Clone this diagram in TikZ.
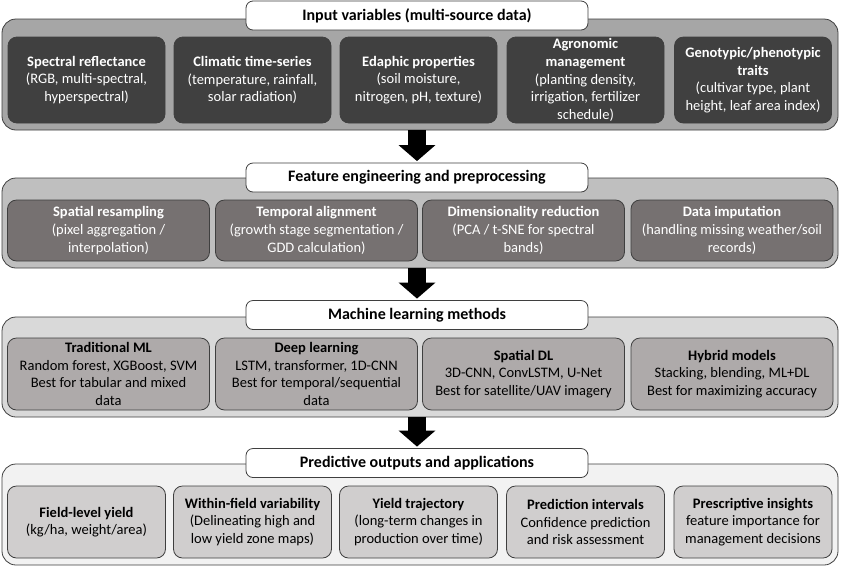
\documentclass[tikz,border=0pt]{standalone}
\usepackage{fontspec}
\setmainfont{Carlito}
\usetikzlibrary{arrows.meta}
\definecolor{bordc}{HTML}{3F3F3F}
\definecolor{outA}{HTML}{A6A6A6}
\definecolor{inA}{HTML}{404040}
\definecolor{outB}{HTML}{BFBFBF}
\definecolor{inB}{HTML}{767171}
\definecolor{outC}{HTML}{D9D9D9}
\definecolor{inC}{HTML}{AEAAAA}
\definecolor{outD}{HTML}{F2F2F2}
\definecolor{inD}{HTML}{D0CECE}
\begin{document}
\begin{tikzpicture}[x=1pt,y=-1pt,
  panel/.style={draw=bordc, line width=0.8pt, rounded corners=14pt, inner sep=0pt, minimum width=836pt},
  titlebox/.style={draw=bordc, line width=0.8pt, fill=white, rounded corners=7pt, minimum width=342pt, minimum height=29pt, inner sep=0pt, font=\fontsize{16}{18}\selectfont\bfseries},
  cell/.style={draw=bordc, line width=0.8pt, rounded corners=9pt, align=center, inner sep=1pt, font=\fontsize{14.5}{17.6}\selectfont},
  cellA/.style={cell, fill=inA, text=white, minimum width=157pt, minimum height=86pt},
  cellB/.style={cell, fill=inB, text=white, minimum width=202pt, minimum height=61pt},
  cellC/.style={cell, fill=inC, text=black, minimum width=202pt, minimum height=72pt},
  cellD/.style={cell, fill=inD, text=black, minimum width=158pt, minimum height=72pt},
  blockarrow/.style={line width=18pt, black, -{Triangle[width=36pt,length=16pt]}, shorten >=1.5pt}
]
\useasboundingbox (0,0) rectangle (841,566);

% Panel 1
\node[panel, fill=outA, minimum height=111pt] (p1) at (420,74.5) {};
\node[titlebox] (t1) at (417,15.5) {Input variables (multi-source data)};
\node[cellA] (a1) at (86.5,80) {\textbf{Spectral reflectance}\\(RGB, multi-spectral,\\hyperspectral)};
\node[cellA] (a2) at (252.5,80) {\textbf{Climatic time-series}\\(temperature, rainfall,\\solar radiation)};
\node[cellA] (a3) at (418.5,80) {\textbf{Edaphic properties}\\(soil moisture,\\nitrogen, pH, texture)};
\node[cellA] (a4) at (585.5,80) {\textbf{Agronomic}\\\textbf{management}\\(planting density,\\irrigation, fertilizer\\schedule)};
\node[cellA] (a5) at (753,80) {\textbf{Genotypic/phenotypic}\\\textbf{traits}\\(cultivar type, plant\\height, leaf area index)};

% Panel 2
\node[panel, fill=outB, minimum height=90pt] (p2) at (420,223) {};
\node[titlebox] (t2) at (417,177.5) {Feature engineering and preprocessing};
\node[cellB] (b1) at (108.5,230.5) {\textbf{Spatial resampling}\\(pixel aggregation /\\interpolation)};
\node[cellB] (b2) at (316.5,230.5) {\textbf{Temporal alignment}\\(growth stage segmentation /\\GDD calculation)};
\node[cellB] (b3) at (523.5,230.5) {\textbf{Dimensionality reduction}\\(PCA / t-SNE for spectral\\bands)};
\node[cellB] (b4) at (732,230.5) {\textbf{Data imputation}\\(handling missing weather/soil\\records)};

% Panel 3
\node[panel, fill=outC, minimum height=100pt] (p3) at (420,367) {};
\node[titlebox] (t3) at (417,315) {Machine learning methods};
\node[cellC] (c1) at (108.5,374) {\textbf{Traditional ML}\\Random forest, XGBoost, SVM\\Best for tabular and mixed\\data};
\node[cellC] (c2) at (316.5,374) {\textbf{Deep learning}\\LSTM, transformer, 1D-CNN\\Best for temporal/sequential\\data};
\node[cellC] (c3) at (523.5,374) {\textbf{Spatial DL}\\3D-CNN, ConvLSTM, U-Net\\Best for satellite/UAV imagery};
\node[cellC] (c4) at (732,374) {\textbf{Hybrid models}\\Stacking, blending, ML+DL\\Best for maximizing accuracy};

% Panel 4
\node[panel, fill=outD, minimum height=101pt] (p4) at (420,514.5) {};
\node[titlebox] (t4) at (417,463) {Predictive outputs and applications};
\node[cellD] (d1) at (86.5,522) {\textbf{Field-level yield}\\(kg/ha, weight/area)};
\node[cellD] (d2) at (252.5,522) {\textbf{Within-field variability}\\(Delineating high and\\low yield zone maps)};
\node[cellD] (d3) at (418.5,522) {\textbf{Yield trajectory}\\(long-term changes in\\production over time)};
\node[cellD] (d4) at (585.5,522) {\textbf{Prediction intervals}\\Confidence prediction\\and risk assessment};
\node[cellD] (d5) at (753,522) {\textbf{Prescriptive insights}\\feature importance for\\management decisions};

% Arrows
\draw[blockarrow] (t2.north |- p1.south) -- (t2.north);
\draw[blockarrow] (t3.north |- p2.south) -- (t3.north);
\draw[blockarrow] (t4.north |- p3.south) -- (t4.north);
\end{tikzpicture}
\end{document}
